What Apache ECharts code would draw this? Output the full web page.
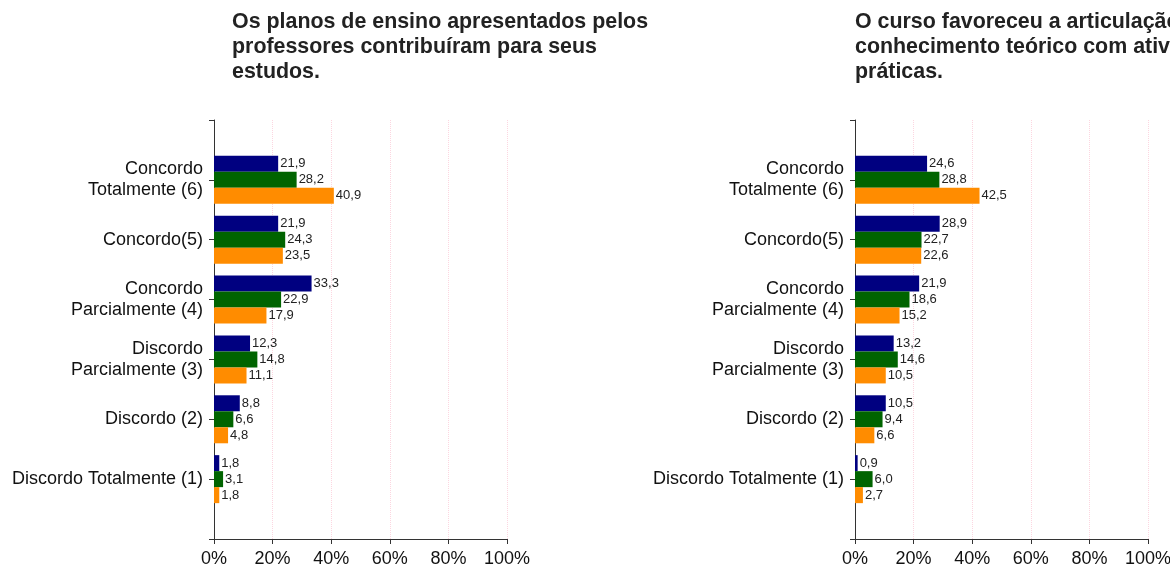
<!DOCTYPE html>
<html><head><meta charset="utf-8">
<script src="https://cdn.jsdelivr.net/npm/echarts@6/dist/echarts.min.js"></script>
<style>html,body{margin:0;padding:0;background:#fff}#c{width:1170px;height:564px}</style>
</head><body><div id="c"></div>
<script>
const categories = ['Concordo\nTotalmente (6)','Concordo(5)','Concordo\nParcialmente (4)','Discordo\nParcialmente (3)','Discordo (2)','Discordo Totalmente (1)'];
const xTicks = [0,20,40,60,80,100];
const title1 = 'Os planos de ensino apresentados pelos\nprofessores contribuíram para seus\nestudos.';
const title2 = 'O curso favoreceu a articulação do\nconhecimento teórico com atividades\npráticas.';
const left1 = [21.9,21.9,33.3,12.3,8.8,1.8];
const left2 = [28.2,24.3,22.9,14.8,6.6,3.1];
const left3 = [40.9,23.5,17.9,11.1,4.8,1.8];
const right1 = [24.6,28.9,21.9,13.2,10.5,0.9];
const right2 = [28.8,22.7,18.6,14.6,9.4,6.0];
const right3 = [42.5,22.6,15.2,10.5,6.6,2.7];
const colors = ['#000080','#006400','#ff8c00'];

const font = 'Liberation Sans, Arial, sans-serif';
const pad = a => ['-'].concat(a, ['-']);
const axisCats = [''].concat(categories, ['']);

function xAxis(gi){
  return {type:'value', gridIndex:gi, min:xTicks[0], max:xTicks[xTicks.length-1], interval:xTicks[1]-xTicks[0],
    axisLine:{show:true, lineStyle:{color:'#333'}},
    axisTick:{show:true, length:5, lineStyle:{color:'#333'}},
    axisLabel:{formatter:v=>v+'%', color:'#111', fontSize:18, fontFamily:font, margin:11},
    splitLine:{show:true, lineStyle:{color:'#fcd6e0', type:'dotted'}}};
}
function yAxis(gi){
  return {type:'category', gridIndex:gi, inverse:true, boundaryGap:false, data:axisCats,
    axisLine:{show:true, lineStyle:{color:'#333'}},
    axisTick:{show:true, length:5, interval:0, lineStyle:{color:'#333'}},
    axisLabel:{interval:0, color:'#111', fontSize:18, fontFamily:font, lineHeight:21, margin:11},
    splitLine:{show:false}};
}
function ser(data, gi, ci){
  return {type:'bar', xAxisIndex:gi, yAxisIndex:gi, data:pad(data), barWidth:16, barGap:'0%',
    itemStyle:{color:colors[ci]},
    label:{show:true, position:'right', distance:2, color:'#222', fontSize:13, fontFamily:font,
      formatter:p=>p.value.toFixed(1).replace('.',',')}};
}
const chart = echarts.init(document.getElementById('c'));
chart.setOption({
  animation:false,
  title:[
    {text:title1, left:232, top:10, padding:0, textStyle:{fontSize:21.4, fontWeight:'bold', color:'#222', fontFamily:font, lineHeight:25}},
    {text:title2, left:855, top:10, padding:0, textStyle:{fontSize:21.4, fontWeight:'bold', color:'#222', fontFamily:font, lineHeight:25}}
  ],
  grid:[
    {left:214, width:293, top:120, bottom:25, outerBoundsMode:'none', containLabel:false},
    {left:855, width:293, top:120, bottom:25, outerBoundsMode:'none', containLabel:false}
  ],
  xAxis:[xAxis(0), xAxis(1)],
  yAxis:[yAxis(0), yAxis(1)],
  series:[ser(left1,0,0),ser(left2,0,1),ser(left3,0,2),ser(right1,1,0),ser(right2,1,1),ser(right3,1,2)]
});
</script></body></html>
